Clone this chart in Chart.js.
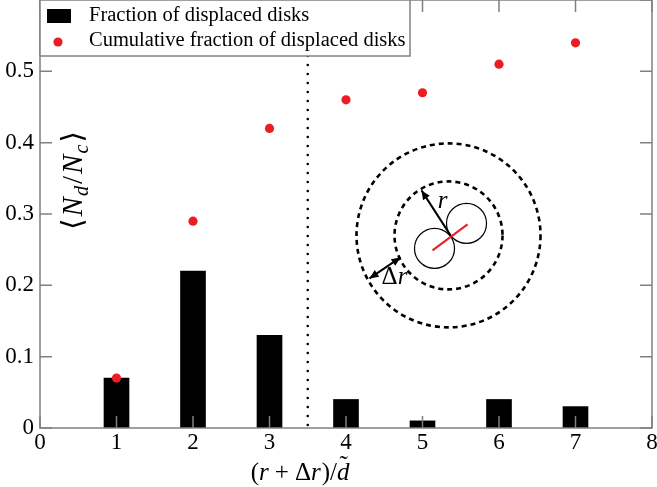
<!DOCTYPE html>
<html>
<head>
<meta charset="utf-8">
<script src="https://cdn.jsdelivr.net/npm/chart.js@4"></script>
<style>
html, body { margin: 0; padding: 0; background: #fff; overflow: hidden; width: 657px; height: 487px; }
#wrap { position: absolute; left: 0; top: -10px; width: 680px; height: 497px; }
</style>
</head>
<body>
<div id="wrap"><canvas id="myChart" width="680" height="497"></canvas></div>
<script>
// data
const positions = [1, 2, 3, 4, 5, 6, 7];
const fraction = [0.07, 0.22, 0.13, 0.04, 0.01, 0.04, 0.03];
const cumulative = [0.07, 0.29, 0.42, 0.46, 0.47, 0.51, 0.54];
const xTicks = [0, 1, 2, 3, 4, 5, 6, 7, 8];
const yTicks = [0, 0.1, 0.2, 0.3, 0.4, 0.5, 0.6];
const cutoff = 3.5;
const labels = ['Fraction of displaced disks', 'Cumulative fraction of displaced disks'];

const SERIF = '"Liberation Serif", "DejaVu Serif", serif';
const RED = '#ec1c24';
const FRAME = '#808080';

function font(size, italic) {
    return (italic ? 'italic ' : '') + size + 'px ' + SERIF;
}

// draw a row of text pieces (italic / subscript) centred on cx
function drawRuns(ctx, runs, cx, cy, rot, size) {
    ctx.save();
    ctx.translate(cx, cy);
    ctx.rotate(rot);
    let total = 0;
    runs.forEach(r => {
        ctx.font = font(r.sub ? size * 0.7 : size, r.it);
        r.w = ctx.measureText(r.t).width + (r.gap || 0);
        total += r.w;
    });
    let x = -total / 2;
    ctx.fillStyle = '#000';
    ctx.textBaseline = 'alphabetic';
    ctx.textAlign = 'left';
    runs.forEach(r => {
        ctx.font = font(r.sub ? size * 0.7 : size, r.it);
        ctx.fillText(r.t, x, r.sub ? size * 0.22 : 0);
        if (r.tilde) {
            ctx.font = font(size, false);
            ctx.fillText('\u02DC', x + r.w * 0.2, -size * 0.3);
        }
        x += r.w;
    });
    ctx.restore();
}

function arrowHead(ctx, from, to) {
    const a = Math.atan2(to.y - from.y, to.x - from.x);
    const len = 9, half = 4;
    ctx.beginPath();
    ctx.moveTo(to.x, to.y);
    ctx.lineTo(to.x - len * Math.cos(a) + half * Math.sin(a), to.y - len * Math.sin(a) - half * Math.cos(a));
    ctx.lineTo(to.x - len * Math.cos(a) - half * Math.sin(a), to.y - len * Math.sin(a) + half * Math.cos(a));
    ctx.closePath();
    ctx.fill();
}

const decorPlugin = {
    id: 'decor',
    beforeDatasetsDraw(chart) {
        const ctx = chart.ctx;
        const x = chart.scales.x, area = chart.chartArea;
        // vertical dotted line
        ctx.save();
        ctx.strokeStyle = '#000';
        ctx.lineWidth = 2.6;
        ctx.lineCap = 'round';
        ctx.setLineDash([0, 9]);
        const px = x.getPixelForValue(cutoff);
        ctx.beginPath();
        ctx.moveTo(px, area.bottom - 3);
        ctx.lineTo(px, area.top);
        ctx.stroke();
        ctx.restore();
    },
    afterDatasetsDraw(chart) {
        const ctx = chart.ctx;
        const x = chart.scales.x, y = chart.scales.y, area = chart.chartArea;

        // frame and inward ticks on every side
        ctx.save();
        ctx.strokeStyle = FRAME;
        ctx.lineWidth = 1.5;
        ctx.strokeRect(area.left, area.top, area.right - area.left, area.bottom - area.top);
        ctx.beginPath();
        xTicks.forEach(v => {
            const p = x.getPixelForValue(v);
            ctx.moveTo(p, area.bottom); ctx.lineTo(p, area.bottom - 12);
            ctx.moveTo(p, area.top); ctx.lineTo(p, area.top + 12);
        });
        yTicks.forEach(v => {
            const p = y.getPixelForValue(v);
            ctx.moveTo(area.left, p); ctx.lineTo(area.left + 12, p);
            ctx.moveTo(area.right, p); ctx.lineTo(area.right - 12, p);
        });
        ctx.stroke();
        ctx.restore();

        // inset sketch
        const cx = x.getPixelForValue(5.34), cy = y.getPixelForValue(0.27);
        ctx.save();
        ctx.strokeStyle = '#000';
        ctx.lineWidth = 2.6;
        ctx.setLineDash([5, 4]);
        ctx.beginPath(); ctx.arc(cx, cy, 92, 0, Math.PI * 2); ctx.stroke();
        ctx.beginPath(); ctx.arc(cx, cy, 54, 0, Math.PI * 2); ctx.stroke();
        ctx.setLineDash([]);
        ctx.lineWidth = 1.2;
        ctx.beginPath(); ctx.arc(cx - 14, cy + 13, 20, 0, Math.PI * 2); ctx.stroke();
        ctx.beginPath(); ctx.arc(cx + 18, cy - 12, 20, 0, Math.PI * 2); ctx.stroke();
        ctx.strokeStyle = RED;
        ctx.lineWidth = 2;
        ctx.beginPath(); ctx.moveTo(cx - 16, cy + 15); ctx.lineTo(cx + 19, cy - 11); ctx.stroke();
        // r arrow
        ctx.strokeStyle = '#000';
        ctx.fillStyle = '#000';
        ctx.lineWidth = 2;
        const c0 = { x: cx + 2, y: cy }, c1 = { x: cx - 27, y: cy - 45 };
        ctx.beginPath(); ctx.moveTo(c0.x, c0.y); ctx.lineTo(c1.x, c1.y); ctx.stroke();
        arrowHead(ctx, c0, c1);
        // delta r arrow
        const d0 = { x: cx - 48, y: cy + 22 }, d1 = { x: cx - 79, y: cy + 43 };
        ctx.beginPath(); ctx.moveTo(d0.x, d0.y); ctx.lineTo(d1.x, d1.y); ctx.stroke();
        arrowHead(ctx, d0, d1);
        arrowHead(ctx, d1, d0);
        ctx.restore();
        drawRuns(ctx, [{ t: 'r', it: true }], cx - 6, cy - 27, 0, 25);
        drawRuns(ctx, [{ t: '\u0394', it: false }, { t: 'r', it: true }], cx - 54, cy + 49, 0, 25);

        // legend box
        ctx.save();
        ctx.fillStyle = '#fff';
        ctx.strokeStyle = FRAME;
        ctx.lineWidth = 1.5;
        ctx.fillRect(area.left, area.top, 370, 56);
        ctx.strokeRect(area.left, area.top, 370, 56);
        ctx.fillStyle = '#000';
        ctx.fillRect(area.left + 7, area.top + 9, 24, 14);
        ctx.fillStyle = RED;
        ctx.beginPath(); ctx.arc(area.left + 18, area.top + 42, 4.6, 0, Math.PI * 2); ctx.fill();
        ctx.fillStyle = '#000';
        ctx.font = font(20.5, false);
        ctx.textBaseline = 'alphabetic';
        ctx.fillText(labels[0], area.left + 49, area.top + 21);
        ctx.fillText(labels[1], area.left + 49, area.top + 46);
        ctx.restore();

        // axis titles
        drawRuns(ctx, [
            { t: '(', it: false }, { t: 'r', it: true, gap: 6 }, { t: '+', it: false, gap: 6 },
            { t: '\u0394', it: false }, { t: 'r', it: true, gap: 1 }, { t: ')', it: false },
            { t: '/', it: false }, { t: 'd', it: true, tilde: true }
        ], x.getPixelForValue(3.4), area.bottom + 52, 0, 25);
        drawRuns(ctx, [
            { t: '\u27E8', it: false, gap: 2 }, { t: 'N', it: true, gap: 1 }, { t: 'd', it: true, sub: true, gap: 2 },
            { t: '/', it: false, gap: 2 }, { t: 'N', it: true, gap: 1 }, { t: 'c', it: true, sub: true, gap: 2 },
            { t: '\u27E9', it: false }
        ], area.left + 42, y.getPixelForValue(0.347), -Math.PI / 2, 29);
    }
};

const ctx = document.getElementById('myChart').getContext('2d');
new Chart(ctx, {
    type: 'bar',
    data: {
        datasets: [{
            type: 'scatter',
            label: labels[1],
            data: positions.map((p, i) => ({ x: p, y: cumulative[i] })),
            backgroundColor: RED,
            borderColor: RED,
            pointRadius: 4.6,
            borderWidth: 0,
            order: 1
        }, {
            type: 'bar',
            label: labels[0],
            data: positions.map((p, i) => ({ x: p, y: fraction[i] })),
            backgroundColor: '#000',
            barThickness: 25,
            order: 2
        }]
    },
    options: {
        responsive: false,
        animation: false,
        devicePixelRatio: 1,
        layout: { padding: { top: 10, right: 28, left: 0, bottom: 0 } },
        plugins: { legend: { display: false }, tooltip: { enabled: false } },
        scales: {
            x: {
                type: 'linear',
                offset: false,
                min: 0, max: 8,
                afterBuildTicks: s => { s.ticks = xTicks.map(v => ({ value: v })); },
                afterFit: s => { s.height = 59; s.paddingLeft = 0; s.paddingRight = 0; },
                ticks: { color: '#000', font: { family: SERIF, size: 23 }, padding: 1, maxRotation: 0 },
                grid: { display: false, drawTicks: false },
                border: { display: false }
            },
            y: {
                min: 0, max: 0.6,
                afterBuildTicks: s => { s.ticks = yTicks.map(v => ({ value: v })); },
                afterFit: s => { s.width = 40; s.paddingTop = 0; s.paddingBottom = 0; },
                ticks: {
                    color: '#000', font: { family: SERIF, size: 23 }, padding: 6,
                    callback: v => (Math.abs(v - 0.6) < 1e-9 ? '' : String(Math.round(v * 10) / 10))
                },
                grid: { display: false, drawTicks: false },
                border: { display: false }
            }
        }
    },
    plugins: [decorPlugin]
});
</script>
</body>
</html>
